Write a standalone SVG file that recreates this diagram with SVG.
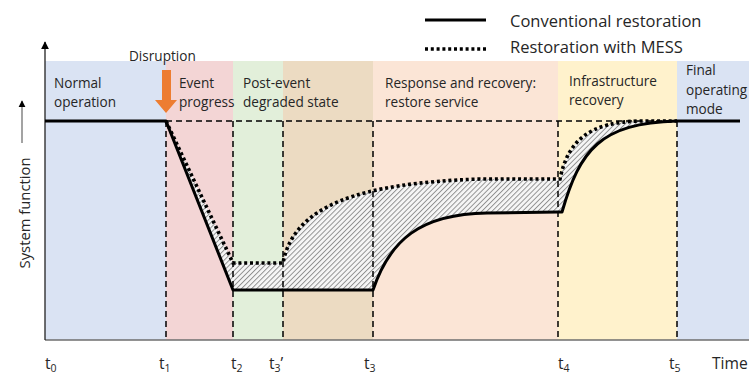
<svg xmlns="http://www.w3.org/2000/svg" width="749" height="374" viewBox="0 0 749 374">
<style>
text{font-family:"Open Sans","Liberation Sans",sans-serif;fill:#262626}
.lbl{font-size:13.6px}
.leg{font-size:16.5px}
.tk{font-size:15.6px}
.sub{font-size:10.5px}
.vd{stroke:#000;stroke-width:1.5;stroke-dasharray:6 4;fill:none}
.solid{stroke:#000;stroke-width:3;fill:none;stroke-linejoin:round}
.dot{stroke:#000;stroke-width:3.6;fill:none;stroke-dasharray:3 2.8}
</style>
<defs>
<pattern id="hatch" width="3.6" height="3.6" patternUnits="userSpaceOnUse" patternTransform="rotate(45)">
<rect width="3.6" height="3.6" fill="#f6f6f6"/>
<line x1="0.5" y1="0" x2="0.5" y2="3.6" stroke="#8a8a8a" stroke-width="0.9"/>
</pattern>
<marker id="ah" viewBox="0 0 10 10" refX="9" refY="5" markerWidth="6" markerHeight="6" orient="auto">
<path d="M0,0 L10,5 L0,10 Z" fill="#000"/>
</marker>
</defs>
<rect width="749" height="374" fill="#fff"/>
<g id="bands">
<rect x="45" y="61" width="121" height="279" fill="#dae3f3"/>
<rect x="166" y="61" width="67" height="279" fill="#f3d5d5"/>
<rect x="233" y="61" width="50" height="279" fill="#e2efda"/>
<rect x="283" y="61" width="90" height="279" fill="#ecdbc2"/>
<rect x="373" y="61" width="185" height="279" fill="#fbe5d6"/>
<rect x="558" y="61" width="119" height="279" fill="#fff2cc"/>
<rect x="677" y="61" width="72" height="279" fill="#dae3f3"/>
</g>
<g id="hatched-area">
<path d="M166,121 L233,263 L283,263 C294,205 360,183 480,179 L560,179 C568,140 590,122 640,121 L677,121 C600,123 580,150 562,212 L558,212 L487,213 C420,214 390,240 373,290 L233,290 Z" fill="url(#hatch)"/>
</g>
<g id="guides">
<line class="vd" x1="166" y1="121" x2="677" y2="121"/>
<line class="vd" x1="166" y1="121" x2="166" y2="340"/>
<line class="vd" x1="233" y1="121" x2="233" y2="340"/>
<line class="vd" x1="283" y1="121" x2="283" y2="340"/>
<line class="vd" x1="373" y1="121" x2="373" y2="340"/>
<line class="vd" x1="558" y1="121" x2="558" y2="340"/>
<line class="vd" x1="677" y1="121" x2="677" y2="340"/>
</g>
<g id="axes">
<line x1="45" y1="340" x2="749" y2="340" stroke="#6e6e6e" stroke-width="1.6"/>
<line x1="45" y1="340" x2="45" y2="42" stroke="#222" stroke-width="1.3" marker-end="url(#ah)"/>
<line x1="22" y1="143" x2="22" y2="101" stroke="#666" stroke-width="1.2" marker-end="url(#ah)"/>
<text class="tk" transform="translate(30,213) rotate(-90)" text-anchor="middle" style="font-size:14.8px">System function</text>
</g>
<g id="curves">
<path class="solid" d="M45,121 L166,121 L233,290 L373,290 C390,240 420,214 487,213 L558,212 L562,212 C580,150 600,123 677,121 L740,121"/>
<path class="dot" d="M166,121 L233,263 L283,263 C294,205 360,183 480,179 L560,179 C568,140 590,122 640,121 L677,121"/>
</g>
<g id="disruption">
<path d="M162,70 L171,70 L171,100 L177,100 L166,113 L155,100 L162,100 Z" fill="#ed7d31"/>
<text class="lbl" x="129" y="61">Disruption</text>
</g>
<g id="phase-normal"><text class="lbl" x="54" y="88">Normal</text><text class="lbl" x="54" y="107">operation</text></g>
<g id="phase-event"><text class="lbl" x="179" y="88">Event</text><text class="lbl" x="179" y="107">progress</text></g>
<g id="phase-degraded"><text class="lbl" x="243" y="88">Post-event</text><text class="lbl" x="243" y="107">degraded state</text></g>
<g id="phase-response"><text class="lbl" x="385" y="88">Response and recovery:</text><text class="lbl" x="385" y="107">restore service</text></g>
<g id="phase-infra"><text class="lbl" x="569" y="86">Infrastructure</text><text class="lbl" x="569" y="105">recovery</text></g>
<g id="phase-final"><text class="lbl" x="686" y="75">Final</text><text class="lbl" x="686" y="95">operating</text><text class="lbl" x="686" y="114">mode</text></g>
<g id="legend">
<line class="solid" x1="425" y1="20" x2="486" y2="20"/>
<line class="dot" x1="425" y1="49" x2="486" y2="49"/>
<text class="leg" x="510" y="27">Conventional restoration</text>
<text class="leg" x="510" y="53">Restoration with MESS</text>
</g>
<g id="time-labels">
<text class="tk" x="45" y="369">t<tspan class="sub" dy="3">0</tspan></text>
<text class="tk" x="159" y="369">t<tspan class="sub" dy="3">1</tspan></text>
<text class="tk" x="231" y="369">t<tspan class="sub" dy="3">2</tspan></text>
<text class="tk" x="269" y="369">t<tspan class="sub" dy="3">3</tspan><tspan dy="-3">’</tspan></text>
<text class="tk" x="364" y="369">t<tspan class="sub" dy="3">3</tspan></text>
<text class="tk" x="558" y="369">t<tspan class="sub" dy="3">4</tspan></text>
<text class="tk" x="669" y="369">t<tspan class="sub" dy="3">5</tspan></text>
<text class="tk" x="712" y="369">Time</text>
</g>
</svg>
